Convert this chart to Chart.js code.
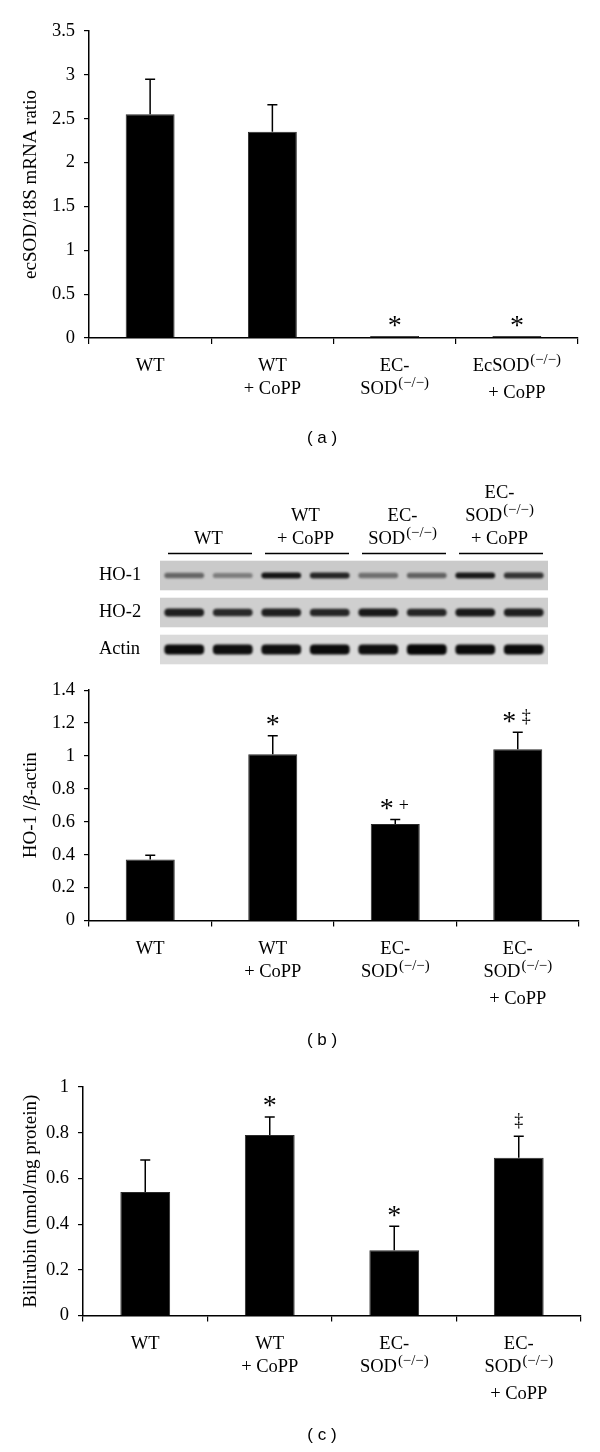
<!DOCTYPE html>
<html>
<head>
<meta charset="utf-8">
<script src="https://cdn.jsdelivr.net/npm/chart.js@4.4.1/dist/chart.umd.min.js"></script>
<style>
  body { margin: 0; background: #fff; width: 600px; height: 1452px; position: relative; overflow: hidden; }
  canvas { position: absolute; left: 0; }
</style>
</head>
<body>
<canvas id="chartA" width="600" height="460" style="top:0px"></canvas>
<canvas id="blot" width="600" height="200" style="top:470px"></canvas>
<canvas id="chartB" width="600" height="390" style="top:670px"></canvas>
<canvas id="chartC" width="600" height="392" style="top:1060px"></canvas>
<script>
// groups: WT, WT + CoPP, EC-SOD(-/-), EC-SOD(-/-) + CoPP
const groups = ['WT', 'WT + CoPP', 'EC-SOD(−/−)', 'EC-SOD(−/−) + CoPP'];
// label lines, text after ^ is superscript
const labelsA = [['WT'], ['WT', '+ CoPP'], ['EC-', 'SOD^(−/−)'], ['EcSOD^(−/−)', '+ CoPP']];
const labelsBC = [['WT'], ['WT', '+ CoPP'], ['EC-', 'SOD^(−/−)'], ['EC-', 'SOD^(−/−)', '+ CoPP']];

// (a) ecSOD/18S mRNA
const mrnaRatio = [2.55, 2.35, 0.02, 0.012];
const mrnaSem = [0.40, 0.31, 0, 0];
const mrnaSig = ['', '', '*', '*'];

// (b) HO-1 / beta-actin densitometry
const ho1Actin = [0.37, 1.01, 0.587, 1.04];
const ho1Sem = [0.027, 0.113, 0.027, 0.104];
const ho1Sig = ['', '*', '* +', '* ‡'];

// (b) western blot, band darkness 0..1 per lane (2 lanes per group)
const blotRows = ['HO-1', 'HO-2', 'Actin'];
const ho1Band = [0.5, 0.38, 0.9, 0.82, 0.45, 0.52, 0.88, 0.75];
const ho2Band = [0.85, 0.8, 0.85, 0.82, 0.88, 0.82, 0.88, 0.85];
const actinBand = [0.95, 0.93, 0.93, 0.95, 0.93, 0.97, 0.95, 0.95];

// (c) bilirubin
const bilirubin = [0.54, 0.79, 0.286, 0.69];
const bilSem = [0.14, 0.079, 0.105, 0.094];
const bilSig = ['', '*', '*', '‡'];

Chart.defaults.font.family = '"Liberation Serif", "Times New Roman", serif';
Chart.defaults.color = '#000';
Chart.defaults.animation = false;

function serif(px) { return px + 'px "Liberation Serif", "Times New Roman", serif'; }

function drawRich(ctx, str, cx, cy, size) {
  const parts = str.split('^');
  const main = parts[0], sup = parts[1] || '';
  ctx.font = serif(size);
  const wm = ctx.measureText(main).width;
  ctx.font = serif(size * 0.8);
  const ws = sup ? ctx.measureText(sup).width + 1 : 0;
  const x = cx - (wm + ws) / 2;
  const base = cy + size * 0.33;
  ctx.textAlign = 'left';
  ctx.textBaseline = 'alphabetic';
  ctx.font = serif(size);
  ctx.fillText(main, x, base);
  if (sup) {
    ctx.font = serif(size * 0.8);
    ctx.fillText(sup, x + wm + 1, base - size * 0.36);
  }
}

function drawSig(ctx, str, cx, cy) {
  const parts = str.split(' ');
  parts.forEach((g, k) => {
    const x = cx + (k - (parts.length - 1) / 2) * 17;
    ctx.font = serif(g === '*' ? 28 : 18);
    const m = ctx.measureText(g);
    ctx.textAlign = 'center';
    ctx.textBaseline = 'alphabetic';
    ctx.fillText(g, x, cy + (m.actualBoundingBoxAscent - m.actualBoundingBoxDescent) / 2);
  });
}

// y title, parts between _ are italic
function drawYTitle(ctx, str, x, cy) {
  const segs = str.split('_').map((t, i) => ({ t, it: i % 2 === 1 }));
  ctx.save();
  ctx.translate(x, cy);
  ctx.rotate(-Math.PI / 2);
  let total = 0;
  segs.forEach(s => { ctx.font = (s.it ? 'italic ' : '') + serif(19); s.w = ctx.measureText(s.t).width; total += s.w; });
  let px = -total / 2;
  ctx.textAlign = 'left';
  ctx.textBaseline = 'middle';
  segs.forEach(s => { ctx.font = (s.it ? 'italic ' : '') + serif(19); ctx.fillText(s.t, px, 0); px += s.w; });
  ctx.restore();
}

function decor(o) {
  return {
    id: 'decor',
    afterDraw(chart) {
      const { ctx, chartArea } = chart;
      const xs = chart.scales.x, ys = chart.scales.y;
      const meta = chart.getDatasetMeta(0);
      ctx.save();
      ctx.fillStyle = '#000';
      ctx.strokeStyle = '#000';
      meta.data.forEach((bar, i) => {
        const e = o.sem[i];
        const yTop = ys.getPixelForValue(o.values[i] + e);
        if (e > 0) {
          ctx.lineWidth = 1.5;
          ctx.beginPath();
          ctx.moveTo(bar.x, bar.y);
          ctx.lineTo(bar.x, yTop);
          ctx.moveTo(bar.x - 5, yTop);
          ctx.lineTo(bar.x + 5, yTop);
          ctx.stroke();
        }
        if (o.sig[i]) drawSig(ctx, o.sig[i], bar.x, yTop - 15);
      });
      o.lines.forEach((ls, i) => {
        const cx = xs.getPixelForValue(i);
        let y = chartArea.bottom + 27;
        ls.forEach((t, k) => {
          if (k > 0) y += ls[k - 1].includes('^') ? 27 : 23;
          drawRich(ctx, t, cx, y, 18.5);
        });
      });
      drawYTitle(ctx, o.title, 31, (chartArea.top + chartArea.bottom) / 2);
      ctx.font = '17px "Liberation Sans", Arial, sans-serif';
      ctx.textAlign = 'center';
      ctx.textBaseline = 'middle';
      ctx.fillText(o.panel, 322, o.panelY);
      ctx.restore();
    }
  };
}

function barPanel(id, o) {
  return new Chart(document.getElementById(id), {
    type: 'bar',
    data: {
      labels: groups,
      datasets: [{
        data: o.values,
        backgroundColor: '#000',
        borderColor: '#2a2a2a',
        borderWidth: 1,
        categoryPercentage: 1,
        barPercentage: 0.4,
        minBarLength: 2
      }]
    },
    options: {
      responsive: false,
      layout: { padding: { left: 0, right: o.padRight, top: o.padTop, bottom: 0 } },
      plugins: { legend: { display: false }, tooltip: { enabled: false } },
      scales: {
        x: {
          offset: true,
          grid: { offset: true, drawOnChartArea: false, tickLength: 6, color: '#000', lineWidth: 1.2 },
          border: { color: '#000', width: 1.5 },
          ticks: { display: false },
          afterFit(s) { s.height = o.xHeight; }
        },
        y: {
          min: 0,
          max: o.yMax,
          grid: { drawOnChartArea: false, tickLength: 5, color: '#000', lineWidth: 1.2 },
          border: { color: '#000', width: 1.5 },
          ticks: {
            stepSize: o.yStep, padding: 9, color: '#000', font: { size: 18.5 },
            callback: v => String(+v.toFixed(1))
          },
          afterFit(s) { s.width = o.yWidth; }
        }
      }
    },
    plugins: [decor(o)]
  });
}

barPanel('chartA', {
  values: mrnaRatio, sem: mrnaSem, sig: mrnaSig, lines: labelsA,
  yMax: 3.5, yStep: 0.5, title: 'ecSOD/18S mRNA ratio', panel: '( a )', panelY: 438,
  yWidth: 89, padRight: 22, padTop: 31, xHeight: 460 - 338
});

barPanel('chartB', {
  values: ho1Actin, sem: ho1Sem, sig: ho1Sig, lines: labelsBC,
  yMax: 1.4, yStep: 0.2, title: 'HO-1 /_β_-actin', panel: '( b )', panelY: 370,
  yWidth: 89, padRight: 21, padTop: 16, xHeight: 390 - 250.5
});

barPanel('chartC', {
  values: bilirubin, sem: bilSem, sig: bilSig, lines: labelsBC,
  yMax: 1, yStep: 0.2, title: 'Bilirubin (nmol/mg protein)', panel: '( c )', panelY: 375,
  yWidth: 83, padRight: 19, padTop: 27, xHeight: 392 - 255.5
});

// western blot strip
const blotBands = [ho1Band, ho2Band, actinBand];
const rowGray = [202, 207, 218];
const bandHalf = [0.085, 0.11, 0.14];
const lanes = ho1Band.map((d, i) => 'lane ' + (i + 1));

function gray(v) { v = Math.round(v); return 'rgb(' + v + ',' + v + ',' + v + ')'; }

const blotDecor = {
  id: 'blotDecor',
  beforeDatasetsDraw(chart) {
    const { ctx, chartArea } = chart;
    const ys = chart.scales.y;
    blotRows.forEach((name, r) => {
      const y0 = ys.getPixelForValue(r + 0.1), y1 = ys.getPixelForValue(r + 0.9);
      ctx.fillStyle = gray(rowGray[r]);
      ctx.fillRect(chartArea.left, y0, chartArea.right - chartArea.left, y1 - y0);
    });
    ctx.save();
    ctx.filter = 'blur(1.2px)';
  },
  afterDatasetsDraw(chart) {
    chart.ctx.restore();
  },
  afterDraw(chart) {
    const { ctx, chartArea } = chart;
    const xs = chart.scales.x, ys = chart.scales.y;
    const laneW = (chartArea.right - chartArea.left) / lanes.length;
    ctx.save();
    ctx.fillStyle = '#000';
    ctx.strokeStyle = '#000';
    blotRows.forEach((name, r) => {
      ctx.font = serif(18.5);
      ctx.textAlign = 'left';
      ctx.textBaseline = 'middle';
      ctx.fillText(name, 99, ys.getPixelForValue(r + 0.5));
    });
    labelsBC.forEach((ls, g) => {
      const xl = xs.getPixelForValue(2 * g) - laneW / 2;
      const xr = xs.getPixelForValue(2 * g + 1) + laneW / 2;
      ctx.lineWidth = 1.5;
      ctx.beginPath();
      ctx.moveTo(xl + 8, 83.5);
      ctx.lineTo(xr - 5, 83.5);
      ctx.stroke();
      let y = 68;
      for (let k = ls.length - 1; k >= 0; k--) {
        drawRich(ctx, ls[k], (xl + xr) / 2, y, 18.5);
        y -= 23;
      }
    });
    ctx.restore();
  }
};

new Chart(document.getElementById('blot'), {
  type: 'bar',
  data: {
    labels: lanes,
    datasets: blotBands.map((band, r) => ({
      label: blotRows[r],
      data: band.map(d => [r + 0.5 - bandHalf[r] * (0.7 + 0.3 * d), r + 0.5 + bandHalf[r] * (0.7 + 0.3 * d)]),
      backgroundColor: band.map(d => gray(rowGray[r] * (1 - d))),
      borderWidth: 0,
      borderRadius: 4,
      borderSkipped: false,
      grouped: false,
      categoryPercentage: 1,
      barPercentage: 0.82
    }))
  },
  options: {
    responsive: false,
    layout: { padding: { left: 160, right: 52, top: 87, bottom: 2 } },
    plugins: { legend: { display: false }, tooltip: { enabled: false } },
    scales: {
      x: { display: false, offset: true },
      y: { display: false, min: 0, max: 3, reverse: true }
    }
  },
  plugins: [blotDecor]
});
</script>
</body>
</html>
